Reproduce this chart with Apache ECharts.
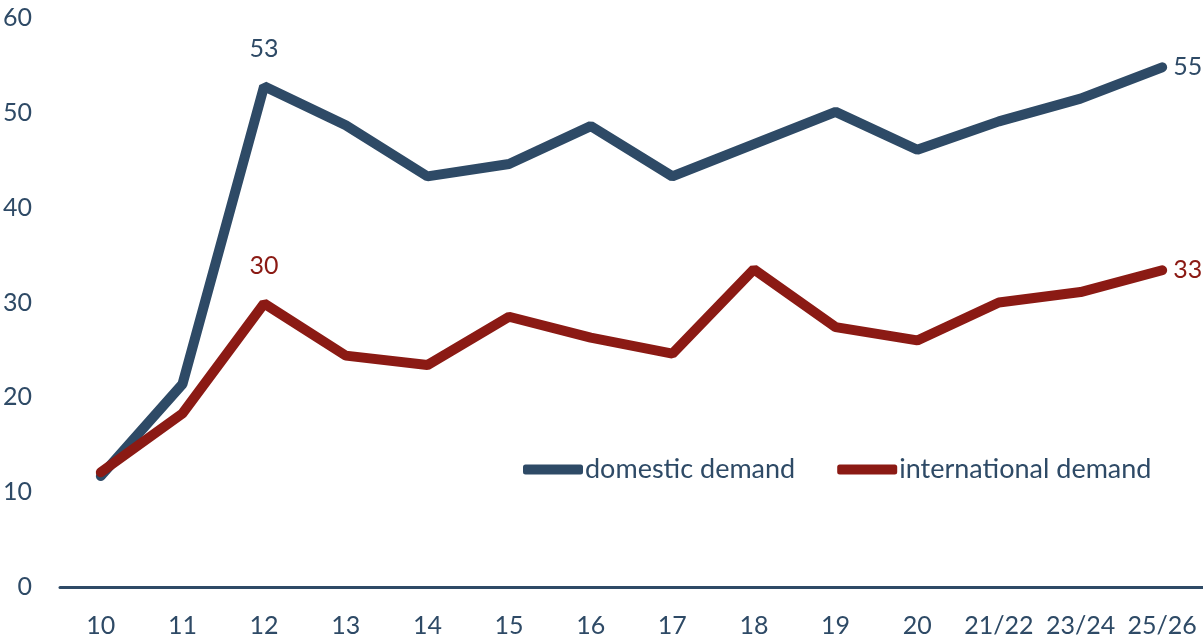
<!DOCTYPE html>
<html>
<head>
<meta charset="utf-8">
<script src="https://cdn.jsdelivr.net/npm/echarts@6/dist/echarts.min.js"></script>
<style>
  html, body { margin: 0; padding: 0; background: #fff; }
  #chart { width: 1203px; height: 640px; }
</style>
</head>
<body>
<div id="chart"></div>
<script>
// categories and values
const categories = ["10", "11", "12", "13", "14", "15", "16", "17", "18", "19", "20", "21/22", "23/24", "25/26"];
const domestic = [11.7, 21.4, 52.8, 48.7, 43.3, 44.6, 48.6, 43.3, 46.7, 50.1, 46.1, 49.1, 51.5, 54.8];
const international = [12.1, 18.3, 29.9, 24.4, 23.4, 28.5, 26.3, 24.6, 33.5, 27.4, 26.0, 30.0, 31.1, 33.4];
const labelledPoints = { 2: "top", 13: "right" };

const BLUE = "#2E4A66";
const RED = "#8B1A14";
const FONT = "Lato";
const FS = 25;

function withLabels(values, color) {
  return values.map(function (v, i) {
    const pos = labelledPoints[i];
    if (!pos) return v;
    return {
      value: v,
      symbol: "circle",
      symbolSize: 2,
      itemStyle: { color: color },
      label: {
        show: true,
        position: pos,
        distance: pos === "top" ? 24 : 10,
        formatter: function (p) { return Math.round(p.value); },
        color: color,
        fontSize: FS,
        fontFamily: FONT
      }
    };
  });
}

const myChart = echarts.init(document.getElementById("chart"));

const option = {
  animation: false,
  color: [BLUE, RED],
  grid: { left: 60, right: -4, top: 18, bottom: 53, containLabel: false },
  legend: {
    data: ["domestic demand", "international demand"],
    left: 523,
    top: 456,
    padding: 0,
    icon: "roundRect",
    itemWidth: 60,
    itemHeight: 10,
    itemGap: 42,
    textStyle: { color: BLUE, fontSize: 27, fontFamily: FONT, padding: [0, 0, 0, -3] }
  },
  xAxis: {
    type: "category",
    data: categories,
    boundaryGap: true,
    axisLine: { lineStyle: { color: BLUE, width: 3 } },
    axisTick: { show: false },
    axisLabel: { interval: 0, color: BLUE, fontSize: FS, fontFamily: FONT, margin: 26 }
  },
  yAxis: {
    type: "value",
    min: 0,
    max: 60,
    interval: 10,
    axisLine: { show: false },
    axisTick: { show: false },
    splitLine: { show: false },
    axisLabel: { color: BLUE, fontSize: FS, fontFamily: FONT, margin: 28 }
  },
  series: [
    {
      name: "domestic demand",
      type: "line",
      data: withLabels(domestic, BLUE),
      symbol: "none",
      showSymbol: true,
      lineStyle: { width: 10, color: BLUE, cap: "round" }
    },
    {
      name: "international demand",
      type: "line",
      data: withLabels(international, RED),
      symbol: "none",
      showSymbol: true,
      lineStyle: { width: 10, color: RED, cap: "round" }
    }
  ]
};

myChart.setOption(option);
</script>
</body>
</html>
